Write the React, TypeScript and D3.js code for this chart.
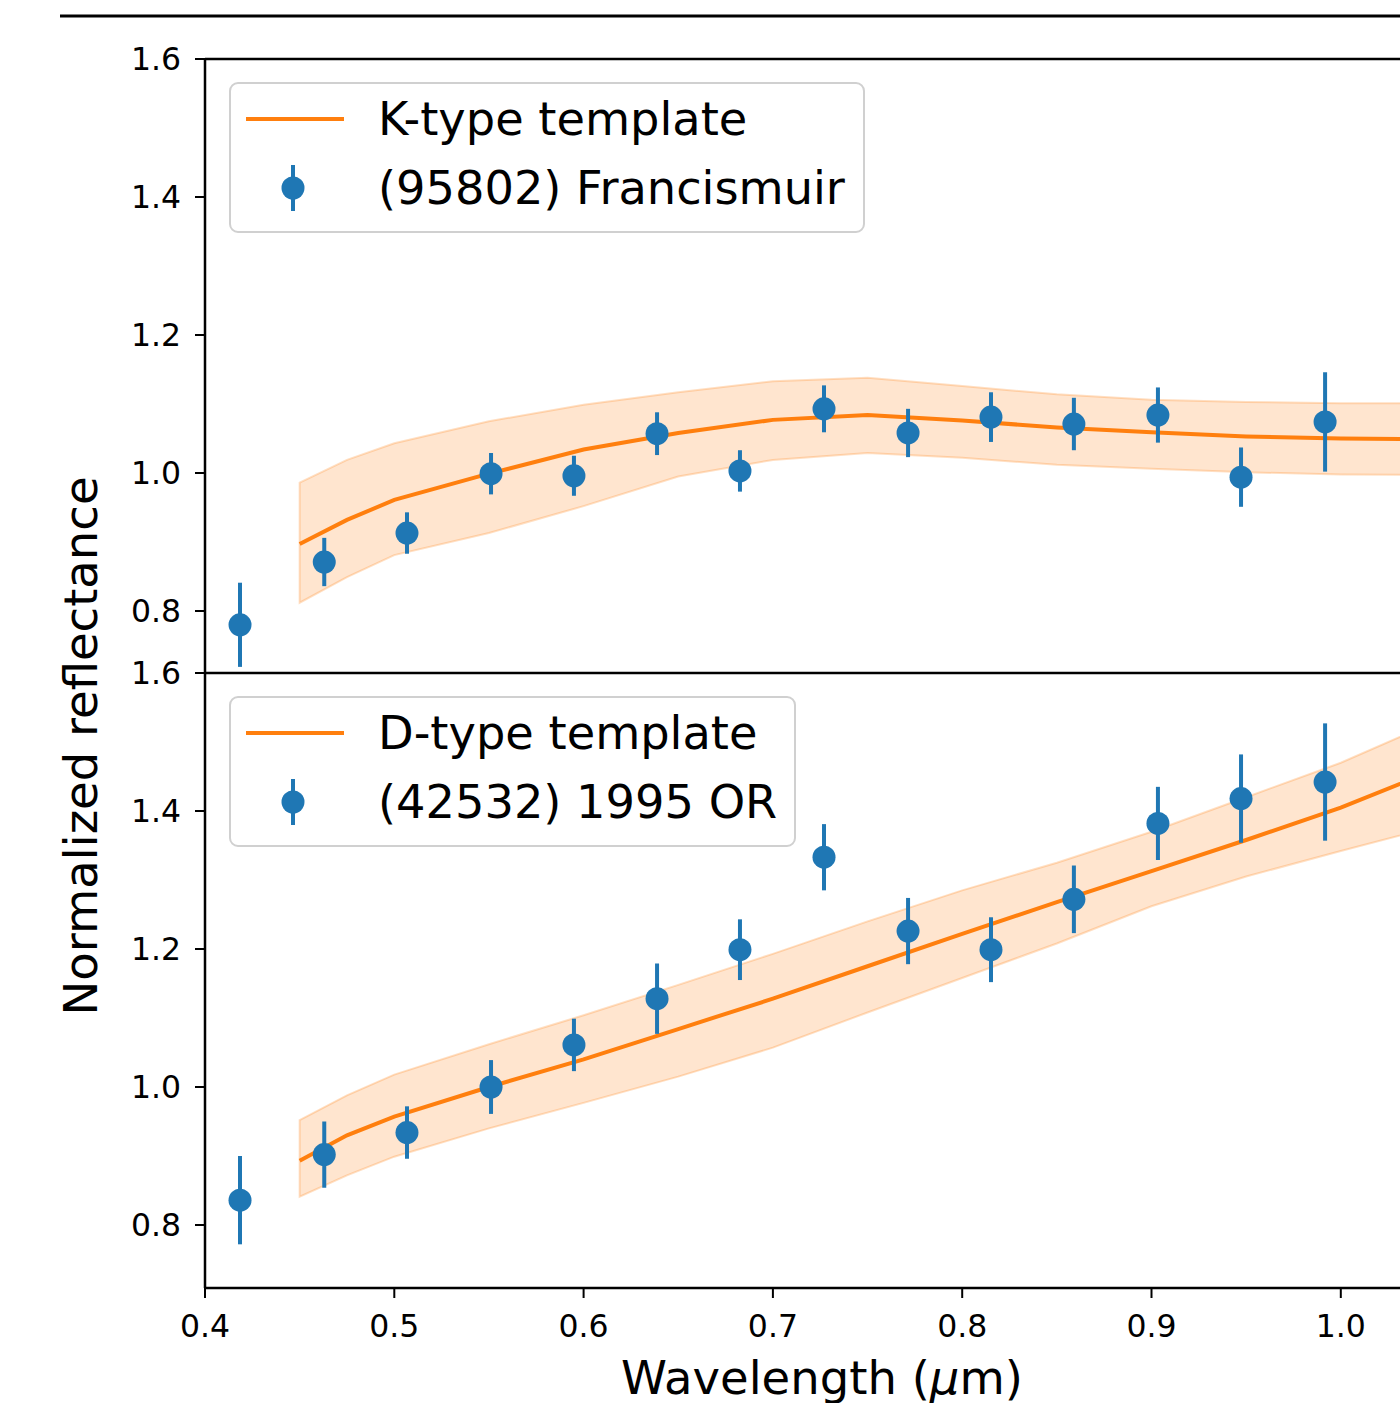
import React from "react";
import * as d3 from "d3";

// Observed data points (wavelength in µm)
const wavelengths = [0.4185, 0.463, 0.5067, 0.5511, 0.5949, 0.6388, 0.6826, 0.727, 0.7714, 0.8152, 0.859, 0.9034, 0.9473, 0.9917];
const kRefl = [0.78, 0.871, 0.913, 0.999, 0.996, 1.057, 1.003, 1.093, 1.058, 1.081, 1.071, 1.084, 0.994, 1.074];
const kErr = [0.061, 0.035, 0.03, 0.03, 0.029, 0.031, 0.03, 0.034, 0.035, 0.036, 0.038, 0.04, 0.043, 0.072];
const dRefl = [0.836, 0.902, 0.934, 1.0, 1.061, 1.128, 1.199, 1.333, 1.226, 1.199, 1.272, 1.382, 1.418, 1.442];
const dErr = [0.064, 0.048, 0.038, 0.039, 0.038, 0.051, 0.044, 0.048, 0.048, 0.047, 0.049, 0.053, 0.064, 0.085];

// Templates
const templateWl = [0.45, 0.475, 0.5, 0.55, 0.6, 0.65, 0.7, 0.75, 0.8, 0.85, 0.9, 0.95, 1.0, 1.05];
const kTemplate = [0.897, 0.932, 0.961, 0.999, 1.034, 1.058, 1.077, 1.084, 1.076, 1.066, 1.059, 1.053, 1.05, 1.049];
const kUpper = [0.986, 1.019, 1.043, 1.075, 1.099, 1.117, 1.133, 1.138, 1.126, 1.114, 1.106, 1.103, 1.101, 1.101];
const kLower = [0.812, 0.849, 0.881, 0.913, 0.952, 0.995, 1.019, 1.029, 1.022, 1.012, 1.006, 1.001, 0.998, 0.997];
const dTemplate = [0.893, 0.93, 0.957, 1.0, 1.04, 1.084, 1.128, 1.175, 1.222, 1.268, 1.313, 1.358, 1.405, 1.46];
const dUpper = [0.952, 0.988, 1.018, 1.062, 1.104, 1.148, 1.193, 1.24, 1.285, 1.325, 1.37, 1.42, 1.47, 1.53];
const dLower = [0.841, 0.872, 0.899, 0.94, 0.977, 1.015, 1.057, 1.108, 1.158, 1.208, 1.262, 1.305, 1.342, 1.378];

const xTicks = [0.4, 0.5, 0.6, 0.7, 0.8, 0.9, 1.0];
const yTicks = [0.8, 1.0, 1.2, 1.4, 1.6];

const panels = [
  { template: "K-type template", name: "(95802) Francismuir", refl: kRefl, err: kErr, tpl: kTemplate, up: kUpper, lo: kLower, top: 59, bottom: 673, legendW: 634 },
  { template: "D-type template", name: "(42532) 1995 OR", refl: dRefl, err: dErr, tpl: dTemplate, up: dUpper, lo: dLower, top: 673, bottom: 1288, legendW: 565 },
];

const ORANGE = "#ff7f0e";
const BLUE = "#1f77b4";
const FONT = "DejaVu Sans";

export default function App() {
  const left = 205;
  const x = d3.scaleLinear().domain([0.4, 1.05]).range([left, left + 0.65 * 1893]);

  return (
    <svg width={1400} height={1403} style={{ position: "absolute", left: 0, top: 0, background: "#fff" }} fontFamily={FONT}>
      <rect width={1400} height={1403} fill="#fff" />
      <line x1={60} x2={1400} y1={16} y2={16} stroke="#000" strokeWidth={3} />
      {panels.map((p, pi) => {
        const y = d3.scaleLinear().domain([1.6 - (p.bottom - p.top) / 690, 1.6]).range([p.bottom, p.top]);
        const clipId = `clip${pi}`;
        const area = d3
          .area<number>()
          .x((_, i) => x(templateWl[i]))
          .y0((_, i) => y(p.lo[i]))
          .y1((_, i) => y(p.up[i]));
        const line = d3
          .line<number>()
          .x((_, i) => x(templateWl[i]))
          .y((d) => y(d));
        const lx = 230;
        const ly = p.top + 24;
        return (
          <g key={pi}>
            <defs>
              <clipPath id={clipId}>
                <rect x={left} y={p.top} width={1400 - left} height={p.bottom - p.top} />
              </clipPath>
            </defs>
            <g clipPath={`url(#${clipId})`}>
              <path d={area(templateWl) || ""} fill={ORANGE} fillOpacity={0.2} stroke={ORANGE} strokeOpacity={0.25} strokeWidth={2} />
              <path d={line(p.tpl) || ""} fill="none" stroke={ORANGE} strokeWidth={4} />
              {wavelengths.map((w, i) => (
                <g key={i}>
                  <line x1={x(w)} x2={x(w)} y1={y(p.refl[i] - p.err[i])} y2={y(p.refl[i] + p.err[i])} stroke={BLUE} strokeWidth={4} />
                  <circle cx={x(w)} cy={y(p.refl[i])} r={11.5} fill={BLUE} />
                </g>
              ))}
            </g>
            {/* spines */}
            <line x1={left} x2={1400} y1={p.top} y2={p.top} stroke="#000" strokeWidth={2.5} />
            <line x1={left} x2={left} y1={p.top} y2={p.bottom} stroke="#000" strokeWidth={2.5} />
            {yTicks.map((t) => (
              <g key={t}>
                <line x1={left - 10} x2={left} y1={y(t)} y2={y(t)} stroke="#000" strokeWidth={2} />
                <text x={181} y={y(t)} textAnchor="end" dominantBaseline="central" fontSize={31.5} fill="#000">
                  {t.toFixed(1)}
                </text>
              </g>
            ))}
            {/* legend */}
            <rect x={lx} y={ly} width={p.legendW} height={149} rx={8} fill="#fff" fillOpacity={0.8} stroke="#d0d0d0" strokeWidth={2} />
            <line x1={lx + 16} x2={lx + 114} y1={ly + 36} y2={ly + 36} stroke={ORANGE} strokeWidth={4} />
            <line x1={lx + 63} x2={lx + 63} y1={ly + 82} y2={ly + 128} stroke={BLUE} strokeWidth={4} />
            <circle cx={lx + 63} cy={ly + 105} r={11.5} fill={BLUE} />
            <text x={lx + 148} y={ly + 36} dominantBaseline="central" fontSize={46.3} fill="#000">
              {p.template}
            </text>
            <text x={lx + 148} y={ly + 105} dominantBaseline="central" fontSize={46.3} fill="#000">
              {p.name}
            </text>
          </g>
        );
      })}
      {/* bottom axis */}
      <line x1={left} x2={1400} y1={1288} y2={1288} stroke="#000" strokeWidth={2.5} />
      {xTicks.map((t) => (
        <g key={t}>
          <line x1={x(t)} x2={x(t)} y1={1288} y2={1298} stroke="#000" strokeWidth={2} />
          <text x={x(t)} y={1326} textAnchor="middle" dominantBaseline="central" fontSize={31.5} fill="#000">
            {t.toFixed(1)}
          </text>
        </g>
      ))}
      <text x={822} y={1394} textAnchor="middle" fontSize={46.5} fill="#000">
        Wavelength (<tspan fontStyle="italic">μ</tspan>m)
      </text>
      <text transform="translate(97,746) rotate(-90)" textAnchor="middle" fontSize={46.5} fill="#000">
        Normalized reflectance
      </text>
    </svg>
  );
}
